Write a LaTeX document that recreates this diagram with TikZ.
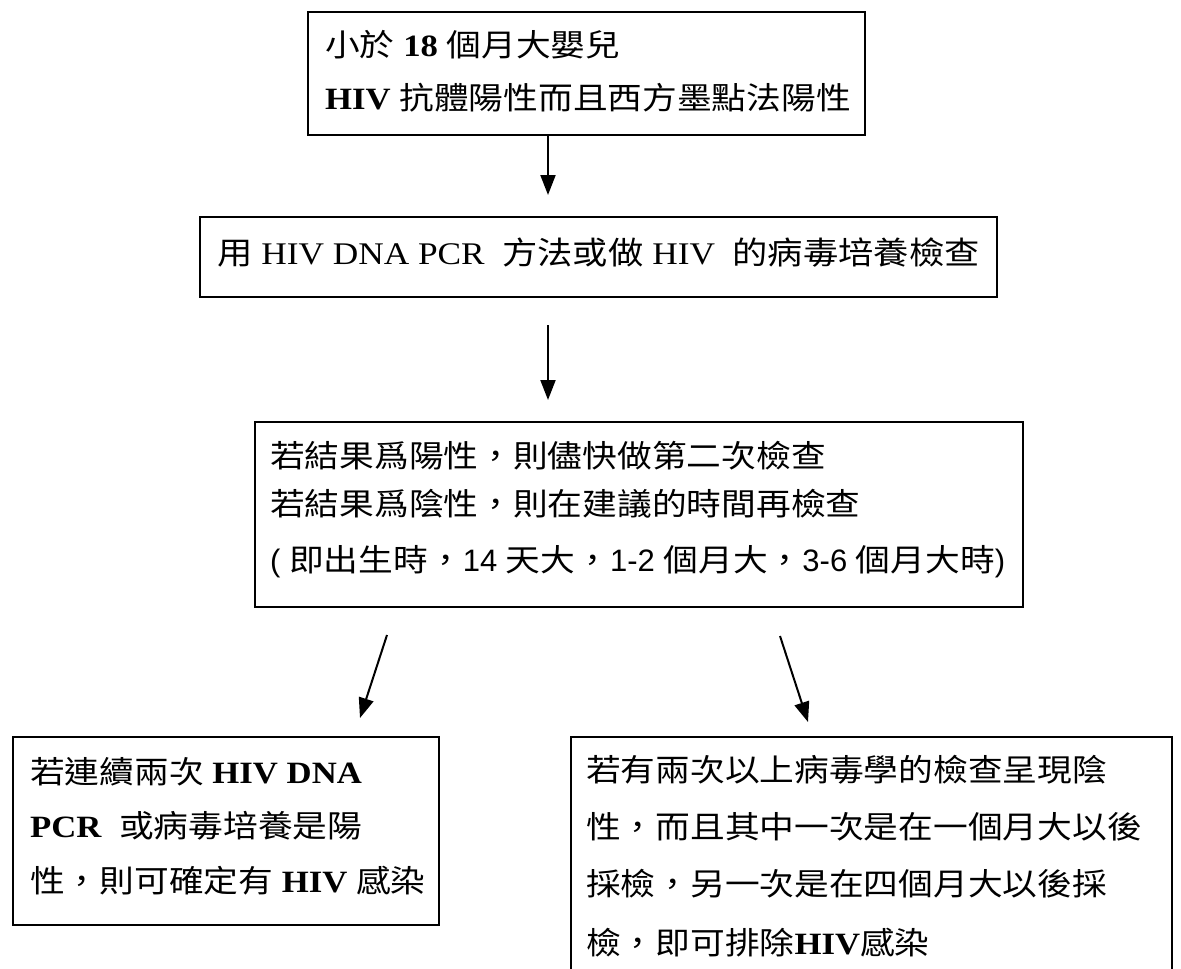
\documentclass[tikz,border=0pt]{standalone}
\usepackage{fontspec}
\setmainfont{Liberation Serif}[FakeStretch=1.12]
\newfontfamily\cjk{Noto Sans CJK TC}[FakeStretch=1.12]
\newfontfamily\lsans{Liberation Sans}[FakeStretch=1.0]
\usetikzlibrary{arrows.meta}
\newcommand\zh[1]{{\cjk #1}}
\newcommand\ls[1]{{\lsans #1}}
\begin{document}
\begin{tikzpicture}[x=1pt,y=-1pt,
  box/.style={draw, line width=2.4pt, inner sep=0pt},
  txt/.style={anchor=west, inner sep=0pt, text height=26pt, text depth=4pt,
              font=\fontsize{31}{37}\selectfont},
  arr/.style={line width=2pt, -{Triangle[length=20pt,width=15pt]}}]
\useasboundingbox[fill=white] (0,0) rectangle (1181,969);

% boxes
\node[box, minimum width=557, minimum height=123] (b1) at (586.5,73.5) {};
\node[box, minimum width=797, minimum height=80]  (b2) at (598.5,257) {};
\node[box, minimum width=768, minimum height=185] (b3) at (639,514.5) {};
\node[box, minimum width=426, minimum height=188] (b4) at (226,831) {};
\begin{scope}
  \clip (0,0) rectangle (1181,969);
  \node[box, minimum width=601, minimum height=280] (b5) at (871.5,877) {};
\end{scope}

% box 1 text
\node[txt] (b1l1) at (325,45) {\zh{小於} \textbf{18} \zh{個月大嬰兒}};
\node[txt] (b1l2) at (325,98) {\textbf{HIV} \zh{抗體陽性而且西方墨點法陽性}};

% box 2 text
\node[txt, font=\fontsize{31.5}{37}\selectfont] (b2l1) at (217,253) {\zh{用} HIV DNA PCR \ \zh{方法或做} HIV \ \zh{的病毒培養檢查}};

% box 3 text
\node[txt] (b3l1) at (270,456) {\zh{若結果爲陽性，則儘快做第二次檢查}};
\node[txt] (b3l2) at (270,504) {\zh{若結果爲陰性，則在建議的時間再檢查}};
\node[txt] (b3l3) at (270,560) {\ls{(} \zh{即出生時，}\ls{14} \zh{天大，}\ls{1-2} \zh{個月大，}\ls{3-6} \zh{個月大時}\ls{)}};

% box 4 text
\node[txt] (b4l1) at (30,772) {\zh{若連續兩次} \textbf{HIV DNA}};
\node[txt] (b4l2) at (30,826) {\textbf{PCR} \ \zh{或病毒培養是陽}};
\node[txt] (b4l3) at (30,881) {\zh{性，則可確定有} \textbf{HIV} \zh{感染}};

% box 5 text
\node[txt] (b5l1) at (586,770) {\zh{若有兩次以上病毒學的檢查呈現陰}};
\node[txt] (b5l2) at (586,827) {\zh{性，而且其中一次是在一個月大以後}};
\node[txt] (b5l3) at (586,884) {\zh{採檢，另一次是在四個月大以後採}};
\node[txt] (b5l4) at (586,943) {\zh{檢，即可排除}\textbf{HIV}\zh{感染}};

% arrows
\coordinate (t1) at (548,195);
\draw[arr] (b1.south -| t1) -- (t1);
\coordinate (s2) at (548,325);
\coordinate (t2) at (548,400);
\draw[arr] (s2) -- (t2);
\coordinate (s3) at (387,635);
\coordinate (t3) at (360,718);
\draw[arr] (s3) -- (t3);
\coordinate (s4) at (780,636);
\coordinate (t4) at (808,722);
\draw[arr] (s4) -- (t4);
\end{tikzpicture}
\end{document}
